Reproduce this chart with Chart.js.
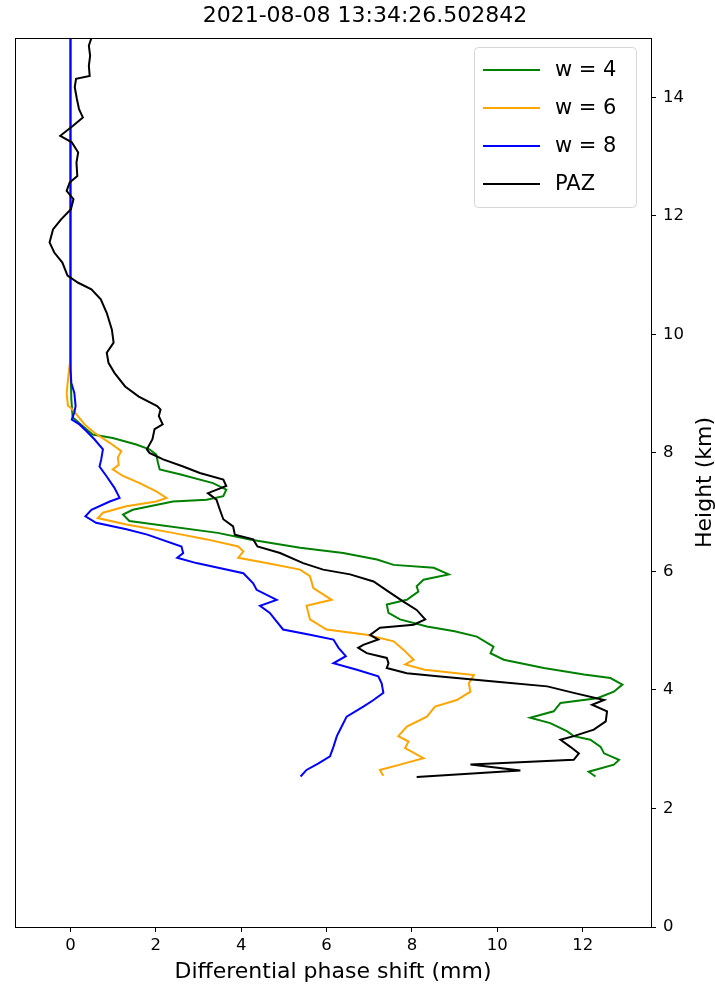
<!DOCTYPE html>
<html>
<head>
<meta charset="utf-8">
<script src="https://cdn.jsdelivr.net/npm/chart.js@4.4.1/dist/chart.umd.min.js"></script>
<style>
  html, body { margin: 0; padding: 0; background: #fff; }
</style>
</head>
<body>
<canvas id="phase" width="715" height="991"></canvas>
<script>
const FONT = '"DejaVu Sans", "Liberation Sans", sans-serif';

// heights (km) and differential phase shift (mm) per profile
const w4Height = [15.0, 9.5, 8.9, 8.6, 8.45, 8.31, 8.25, 8.14, 8.06, 7.97, 7.83, 7.72, 7.64, 7.49, 7.38, 7.27, 7.21, 7.18, 7.04, 6.96, 6.85, 6.65, 6.54, 6.40, 6.31, 6.20, 6.11, 6.06, 5.95, 5.86, 5.75, 5.66, 5.52, 5.44, 5.30, 5.19, 5.07, 4.99, 4.90, 4.73, 4.62, 4.51, 4.37, 4.26, 4.20, 4.09, 3.97, 3.86, 3.78, 3.64, 3.53, 3.44, 3.30, 3.22, 3.16, 3.04, 2.93, 2.82, 2.74, 2.62, 2.54];
const w4Shift  = [0, 0, 0.02, 0.05, 0.29, 0.52, 0.99, 1.54, 1.85, 2.01, 2.05, 2.09, 2.56, 3.34, 3.65, 3.58, 3.19, 2.40, 1.46, 1.23, 1.38, 3.45, 4.20, 5.38, 6.39, 7.18, 7.57, 8.51, 8.86, 8.27, 8.11, 8.15, 7.88, 7.41, 7.45, 7.72, 8.35, 9.00, 9.52, 9.91, 9.84, 10.15, 11.09, 12.03, 12.65, 12.93, 12.73, 12.34, 11.48, 11.32, 10.77, 11.24, 11.64, 11.79, 12.18, 12.42, 12.50, 12.85, 12.73, 12.14, 12.30];

const w6Height = [15.0, 9.6, 9.3, 9.0, 8.8, 8.73, 8.48, 8.34, 8.17, 8.03, 7.92, 7.80, 7.72, 7.61, 7.49, 7.35, 7.24, 7.18, 7.10, 6.99, 6.90, 6.79, 6.65, 6.54, 6.42, 6.34, 6.23, 6.14, 6.03, 5.92, 5.72, 5.52, 5.42, 5.19, 5.02, 4.93, 4.82, 4.68, 4.51, 4.43, 4.34, 4.25, 4.11, 3.97, 3.83, 3.72, 3.55, 3.38, 3.22, 3.13, 3.02, 2.85, 2.74, 2.65, 2.55];
const w6Shift  = [0, 0, -0.05, -0.09, -0.06, 0.05, 0.33, 0.56, 0.92, 1.19, 1.11, 1.13, 0.99, 1.23, 1.62, 2.01, 2.25, 2.01, 1.31, 0.76, 0.64, 1.31, 2.40, 3.20, 3.93, 4.05, 3.93, 4.59, 5.38, 5.61, 5.69, 6.12, 5.53, 5.61, 6.00, 6.94, 7.57, 7.80, 8.04, 7.84, 8.30, 9.45, 9.33, 9.37, 9.05, 8.54, 8.35, 7.88, 7.68, 7.92, 7.84, 8.27, 7.72, 7.25, 7.33];

const w8Height = [15.0, 9.4, 9.18, 9.01, 8.79, 8.68, 8.56, 8.48, 8.37, 8.23, 8.06, 7.89, 7.77, 7.61, 7.41, 7.24, 7.18, 7.04, 6.93, 6.82, 6.71, 6.62, 6.42, 6.31, 6.23, 6.14, 5.97, 5.80, 5.69, 5.52, 5.42, 5.30, 5.19, 5.02, 4.93, 4.85, 4.71, 4.57, 4.45, 4.34, 4.23, 4.11, 3.95, 3.83, 3.72, 3.55, 3.38, 3.22, 3.04, 2.88, 2.76, 2.65, 2.54];
const w8Shift  = [0, 0, 0.02, 0.09, 0.12, 0.09, 0.03, 0.21, 0.37, 0.56, 0.76, 0.72, 0.68, 0.84, 1.03, 1.15, 0.92, 0.49, 0.35, 0.60, 1.31, 1.80, 2.60, 2.64, 2.50, 2.95, 4.05, 4.28, 4.36, 4.83, 4.44, 4.67, 4.79, 4.98, 5.61, 6.16, 6.28, 6.45, 6.16, 6.71, 7.21, 7.29, 7.33, 7.10, 6.86, 6.47, 6.35, 6.24, 6.16, 6.08, 5.81, 5.53, 5.39];

const pazHeight = [15.0, 14.87, 14.70, 14.53, 14.36, 14.31, 14.17, 13.97, 13.80, 13.66, 13.52, 13.35, 13.24, 13.07, 12.90, 12.67, 12.56, 12.42, 12.28, 12.11, 11.94, 11.77, 11.55, 11.38, 11.21, 10.99, 10.87, 10.76, 10.59, 10.36, 10.08, 9.86, 9.69, 9.52, 9.35, 9.12, 8.95, 8.79, 8.73, 8.62, 8.48, 8.40, 8.23, 8.06, 8.00, 7.89, 7.77, 7.66, 7.55, 7.44, 7.32, 7.21, 7.04, 6.88, 6.76, 6.62, 6.54, 6.42, 6.31, 6.14, 6.03, 5.95, 5.83, 5.66, 5.49, 5.35, 5.19, 5.10, 5.05, 4.93, 4.85, 4.76, 4.71, 4.62, 4.54, 4.45, 4.37, 4.28, 4.23, 4.14, 4.06, 3.95, 3.83, 3.75, 3.64, 3.47, 3.33, 3.22, 3.16, 3.04, 2.93, 2.82, 2.74, 2.64, 2.53];
const pazShift  = [0.49, 0.43, 0.46, 0.43, 0.45, 0.13, 0.10, 0.15, 0.20, 0.29, 0.06, -0.24, 0.03, 0.18, 0.14, 0.16, -0.02, -0.09, 0.07, 0.01, -0.22, -0.41, -0.49, -0.38, -0.19, -0.07, 0.18, 0.49, 0.71, 0.85, 0.97, 1.01, 0.85, 0.89, 1.03, 1.28, 1.60, 2.03, 2.11, 2.07, 2.16, 1.97, 1.92, 1.79, 1.85, 2.17, 2.64, 3.03, 3.58, 3.65, 3.22, 3.42, 3.50, 3.58, 3.81, 3.85, 4.28, 4.38, 4.91, 5.45, 5.92, 6.55, 7.10, 7.45, 7.80, 8.11, 8.31, 8.04, 7.25, 7.02, 7.21, 6.86, 6.74, 6.94, 7.41, 7.45, 7.41, 7.88, 8.60, 9.99, 11.17, 11.79, 12.50, 12.22, 12.57, 12.54, 12.26, 11.79, 11.48, 11.71, 11.91, 11.79, 9.37, 10.54, 8.11];

const xTicks = [0, 2, 4, 6, 8, 10, 12];
const yTicks = [0, 2, 4, 6, 8, 10, 12, 14];

const toPoints = (xs, hs) => xs.map((x, i) => ({ x: x, y: hs[i] }));

function profile(label, color, xs, hs, order) {
  return {
    label, order,
    data: toPoints(xs, hs),
    borderColor: color,
    backgroundColor: color,
    borderWidth: 2,
    showLine: true,
    pointRadius: 0,
    tension: 0
  };
}

// matplotlib-style box: frame on all four sides
const frame = {
  id: 'frame',
  afterDatasetsDraw(chart) {
    const { ctx, chartArea: a } = chart;
    ctx.save();
    ctx.strokeStyle = '#000';
    ctx.lineWidth = 1;
    ctx.strokeRect(Math.round(a.left) + 0.5, Math.round(a.top) + 0.5,
      Math.round(a.right - a.left), Math.round(a.bottom - a.top));
    ctx.restore();
  }
};

// legend inside the axes, upper right, with a rounded box
const boxLegend = {
  id: 'boxLegend',
  afterDatasetsDraw(chart) {
    const { ctx, chartArea: a } = chart;
    const w = 162, h = 160;
    const x0 = a.right - 177, y0 = a.top + 9;
    ctx.save();
    ctx.fillStyle = 'rgba(255,255,255,0.8)';
    ctx.strokeStyle = '#d6d6d6';
    ctx.lineWidth = 1;
    ctx.beginPath();
    ctx.roundRect(x0 + 0.5, y0 + 0.5, w, h, 4);
    ctx.fill();
    ctx.stroke();
    ctx.font = '21px ' + FONT;
    ctx.textBaseline = 'middle';
    chart.data.datasets.forEach((ds, i) => {
      const y = y0 + 23 + i * 38;
      ctx.strokeStyle = ds.borderColor;
      ctx.lineWidth = 2;
      ctx.beginPath();
      ctx.moveTo(x0 + 9, y);
      ctx.lineTo(x0 + 66, y);
      ctx.stroke();
      ctx.fillStyle = '#000';
      ctx.fillText(ds.label, x0 + 81, y + 1);
    });
    ctx.restore();
  }
};

// y title on the right, reading bottom to top
const rightTitle = {
  id: 'rightTitle',
  afterDraw(chart) {
    const { ctx, chartArea: a } = chart;
    ctx.save();
    ctx.translate(chart.width - 10, (a.top + a.bottom) / 2);
    ctx.rotate(-Math.PI / 2);
    ctx.font = '22px ' + FONT;
    ctx.fillStyle = '#000';
    ctx.textAlign = 'center';
    ctx.textBaseline = 'middle';
    ctx.fillText('Height (km)', 0, 0);
    ctx.restore();
  }
};

const tickStyle = { color: '#000', font: { family: FONT, size: 16.5 } };

new Chart(document.getElementById('phase'), {
  type: 'scatter',
  data: {
    datasets: [
      profile('w = 4', 'green', w4Shift, w4Height, 4),
      profile('w = 6', 'orange', w6Shift, w6Height, 3),
      profile('w = 8', 'blue', w8Shift, w8Height, 2),
      profile('PAZ', 'black', pazShift, pazHeight, 1)
    ]
  },
  options: {
    responsive: false,
    animation: false,
    layout: { padding: { left: 15, right: 0, top: 0, bottom: 0 } },
    plugins: {
      legend: { display: false },
      tooltip: { enabled: false },
      title: {
        display: true,
        text: '2021-08-08 13:34:26.502842',
        color: '#000',
        font: { family: FONT, size: 22, weight: 'normal' },
        padding: { top: 3, bottom: 8.6 }
      }
    },
    scales: {
      x: {
        type: 'linear',
        position: 'bottom',
        min: -1.3,
        max: 13.6,
        afterBuildTicks: s => { s.ticks = xTicks.map(v => ({ value: v })); },
        afterFit: s => { s.height = 64; },
        ticks: { ...tickStyle, padding: 4, maxRotation: 0 },
        grid: { drawOnChartArea: false, drawTicks: true, tickLength: 5, color: '#000' },
        border: { display: false },
        title: {
          display: true,
          text: 'Differential phase shift (mm)',
          color: '#000',
          font: { family: FONT, size: 22 },
          padding: { top: 2, bottom: 6 }
        }
      },
      y: {
        type: 'linear',
        position: 'right',
        min: 0,
        max: 15,
        afterBuildTicks: s => { s.ticks = yTicks.map(v => ({ value: v })); },
        afterFit: s => { s.width = 64; },
        ticks: { ...tickStyle, padding: 7 },
        grid: { drawOnChartArea: false, drawTicks: true, tickLength: 5, color: '#000' },
        border: { display: false }
      }
    }
  },
  plugins: [frame, boxLegend, rightTitle]
});
</script>
</body>
</html>
